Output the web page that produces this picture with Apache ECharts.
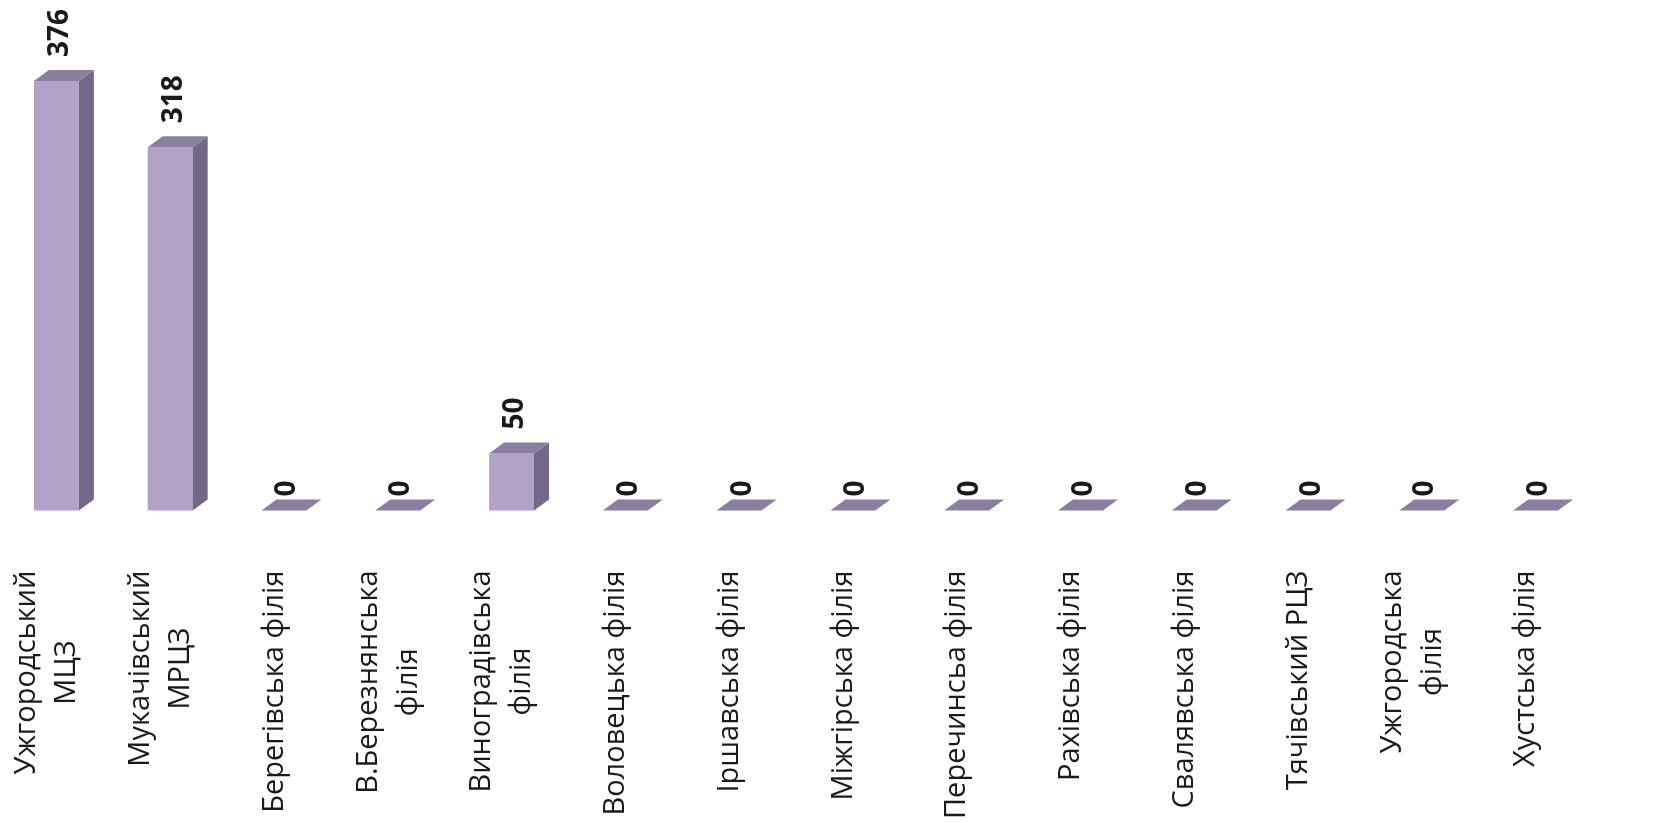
<!DOCTYPE html>
<html>
<head>
<meta charset="utf-8">
<script src="https://cdn.jsdelivr.net/npm/echarts@6/dist/echarts.min.js"></script>
<style>
html,body{margin:0;padding:0;background:#fff;}
#chart{width:1655px;height:822px;}
</style>
</head>
<body>
<div id="chart"></div>
<script>
const categories = [
  "Ужгородський\nМЦЗ",
  "Мукачівський\nМРЦЗ",
  "Берегівська філія",
  "В.Березнянська\nфілія",
  "Виноградівська\nфілія",
  "Воловецька філія",
  "Іршавська філія",
  "Міжгірська філія",
  "Перечинсьа філія",
  "Рахівська філія",
  "Свалявська філія",
  "Тячівський РЦЗ",
  "Ужгородська\nфілія",
  "Хустська філія"
];
const values = [376, 318, 0, 0, 50, 0, 0, 0, 0, 0, 0, 0, 0, 0];

const FRONT = '#B3A2C7';
const SIDE = '#736887';
const TOP = '#8B7FA0';

const chart = echarts.init(document.getElementById('chart'));

function renderItem(params, api) {
  const idx = api.value(0);
  const v = api.value(1);
  const base = api.coord([idx, 0]);
  const top = api.coord([idx, v]);
  const band = api.size([1, 0])[0];
  const fw = band * 0.395;
  const dx = band * 0.132;
  const dy = 11;
  const x0 = base[0] - (fw + dx) / 2;
  const x1 = x0 + fw;
  const yb = base[1];
  const yt = top[1];
  const children = [];
  if (v > 0) {
    children.push({type: 'polygon', shape: {points: [[x0, yt], [x1, yt], [x1, yb], [x0, yb]]}, style: {fill: FRONT}});
    children.push({type: 'polygon', shape: {points: [[x1, yt], [x1 + dx, yt - dy], [x1 + dx, yb - dy], [x1, yb]]}, style: {fill: SIDE}});
  }
  children.push({type: 'polygon', shape: {points: [[x0, yt], [x1, yt], [x1 + dx, yt - dy], [x0 + dx, yt - dy]]}, style: {fill: TOP}});
  const gap = v > 0 ? 13 : 3;
  children.push({
    type: 'text',
    x: base[0] - 4,
    y: yt - dy - gap,
    rotation: Math.PI / 2,
    style: {
      text: String(v),
      font: 'bold 28px "Open Sans", sans-serif',
      fill: '#1a1a1a',
      align: 'left',
      verticalAlign: 'middle'
    }
  });
  return {type: 'group', children: children};
}

const option = {
  animation: false,
  grid: {left: 7, right: 55, top: 53.6, bottom: 311},
  xAxis: {
    type: 'category',
    data: categories,
    axisLine: {show: false},
    axisTick: {show: false},
    axisLabel: {
      interval: 0,
      rotate: 90,
      margin: 60,
      color: '#1a1a1a',
      fontFamily: '"Open Sans", sans-serif',
      fontSize: 29,
      lineHeight: 40,
      padding: [0, 0, 34, 0],
      formatter: function (val) {
        return val.split('\n').map(function (s) { return '{c|' + s + '}'; }).join('\n');
      },
      rich: {
        c: {align: 'center', fontSize: 29, lineHeight: 40, fontFamily: '"Open Sans", sans-serif', color: '#1a1a1a'}
      }
    }
  },
  yAxis: {type: 'value', min: 0, max: 400, show: false, splitLine: {show: false}},
  series: [{
    type: 'custom',
    renderItem: renderItem,
    data: values.map(function (v, i) { return [i, v]; }),
    encode: {x: 0, y: 1}
  }]
};
chart.setOption(option);
</script>
</body>
</html>
